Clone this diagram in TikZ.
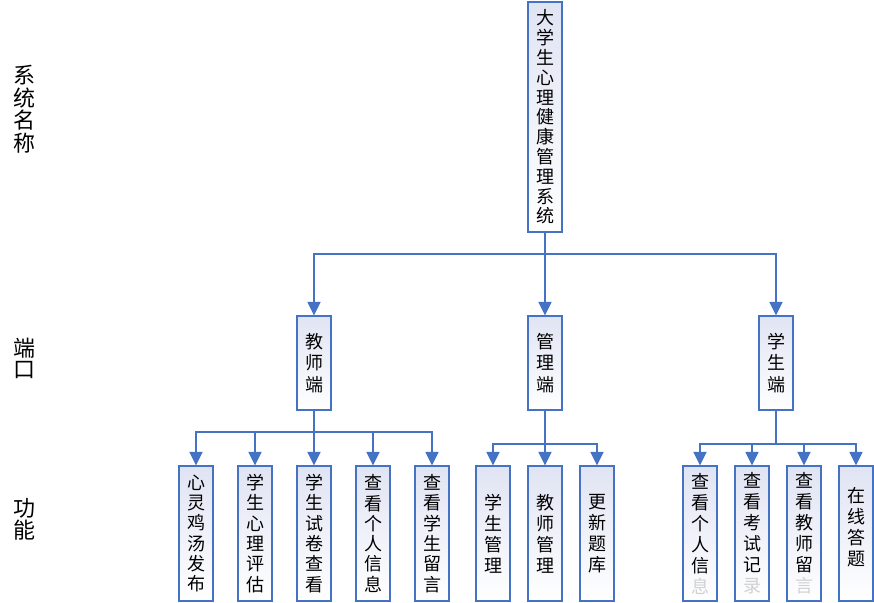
\documentclass[tikz,border=0pt]{standalone}
\usepackage{fontspec}
\setmainfont{Noto Sans CJK SC}
\usetikzlibrary{arrows.meta}
\definecolor{bl}{RGB}{68,114,196}
\definecolor{boxtop}{RGB}{224,228,243}
\begin{document}
\begin{tikzpicture}[x=1pt,y=-1pt,
  box/.style={draw=bl,line width=1.1pt,top color=boxtop,bottom color=white,
    minimum width=34pt,inner sep=0pt,align=center,text=black},
  topbox/.style={box,minimum height=230pt,font=\fontsize{18}{19.8}\selectfont},
  midbox/.style={box,minimum height=94pt,font=\fontsize{18}{21.5}\selectfont},
  lowbox/.style={box,minimum height=135pt,font=\fontsize{18}{20.3}\selectfont},
  lowboxb/.style={box,minimum height=135pt,font=\fontsize{18}{21}\selectfont},
  conn/.style={draw=bl,line width=1.5pt},
  arr/.style={conn,-{Triangle[length=13.5pt,width=13pt]}},
  side/.style={align=center,inner sep=0pt,font=\fontsize{22}{22.5}\selectfont}]
\useasboundingbox (0,0) rectangle (874,602);

% side labels
\node[side] (l1) at (24,109) {系\\统\\名\\称};
\node[side,font=\fontsize{22}{21}\selectfont] (l2) at (24,358) {端\\口};
\node[side,font=\fontsize{22}{22}\selectfont] (l3) at (24,519) {功\\能};

% top
\node[topbox] (sys) at (545,117) {大\\学\\生\\心\\理\\健\\康\\管\\理\\系\\统};

% level 2
\node[midbox] (tea) at (314,363) {教\\师\\端};
\node[midbox] (adm) at (545,363) {管\\理\\端};
\node[midbox] (stu) at (776,363) {学\\生\\端};

% level 3 teacher
\node[lowbox] (t1) at (196,533.5) {心\\灵\\鸡\\汤\\发\\布};
\node[lowbox] (t2) at (255,533.5) {学\\生\\心\\理\\评\\估};
\node[lowbox] (t3) at (314,533.5) {学\\生\\试\\卷\\查\\看};
\node[lowbox] (t4) at (373,533.5) {查\\看\\个\\人\\信\\息};
\node[lowbox] (t5) at (432,533.5) {查\\看\\学\\生\\留\\言};

% level 3 admin
\node[lowboxb] (a1) at (493,533.5) {学\\生\\管\\理};
\node[lowboxb] (a2) at (545,533.5) {教\\师\\管\\理};
\node[lowboxb] (a3) at (597,533.5) {更\\新\\题\\库};

% level 3 student
\node[lowboxb] (s1) at (700,533.5) {查\\看\\个\\人\\信\\\textcolor{black!18}{息}};
\node[lowboxb] (s2) at (752,533.5) {查\\看\\考\\试\\记\\\textcolor{black!18}{录}};
\node[lowboxb] (s3) at (804,533.5) {查\\看\\教\\师\\留\\\textcolor{black!18}{言}};
\node[lowboxb] (s4) at (856,533.5) {\mbox{}\\在\\线\\答\\题\\\mbox{}};

% buses
\coordinate (bus1) at (0,254);
\coordinate (bus2) at (0,432);
\coordinate (bus3) at (0,444);

\draw[arr] (sys.south) -- (sys.south |- bus1) -| (tea.north);
\draw[arr] (sys.south) -- (sys.south |- bus1) -| (stu.north);
\draw[arr] (sys.south) -- (adm.north);

\foreach \n in {t1,t2,t4,t5}
  \draw[arr] (tea.south) -- (tea.south |- bus2) -| (\n.north);
\draw[arr] (tea.south) -- (t3.north);

\foreach \n in {a1,a3}
  \draw[arr] (adm.south) -- (adm.south |- bus3) -| (\n.north);
\draw[arr] (adm.south) -- (a2.north);

\foreach \n in {s1,s2,s3,s4}
  \draw[arr] (stu.south) -- (stu.south |- bus3) -| (\n.north);
\end{tikzpicture}
\end{document}
